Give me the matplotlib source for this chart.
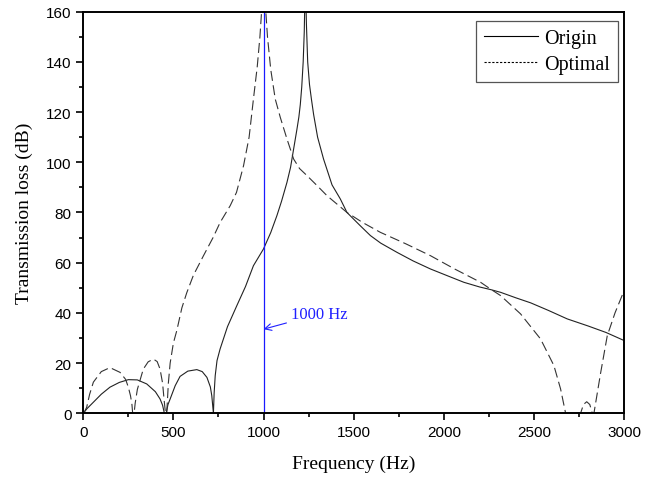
import matplotlib.pyplot as plt
from matplotlib.lines import Line2D
from matplotlib.ticker import MultipleLocator

# Transmission loss of the original and optimised muffler
freq_origin = [0, 20, 56, 100, 148, 200, 250, 300, 352, 400, 426, 440, 450,
               460, 470, 482, 510, 537, 580, 630, 660, 686, 705, 713, 722,
               726, 732, 742, 759, 800, 852, 900, 944, 1000, 1040, 1074, 1100,
               1130, 1150, 1167, 1185, 1196, 1204, 1212, 1220, 1226, 1232,
               1238, 1245, 1255, 1266, 1278, 1300, 1333, 1380, 1426, 1463,
               1537, 1593, 1650, 1741, 1830, 1926, 2020, 2111, 2200, 2259,
               2315, 2400, 2482, 2580, 2685, 2800, 2900, 3000]
tl_origin = [0, 1.8, 4.4, 7.6, 10.4, 12.3, 13.4, 13.3, 11.7, 8.6, 5.7, 3.2, 0,
             0, 3.5, 5.7, 11.0, 14.7, 16.8, 17.4, 16.6, 14.3, 10.5, 7.0, 0,
             8.0, 15.0, 21.0, 25.6, 34.5, 42.9, 50.5, 58.8, 65.5, 72.0, 78.7, 84.5,
             92.0, 98.0, 105.3, 113.0, 118.0, 123.0, 130.0, 140.0, 152.0, 175.0,
             155.0, 140.0, 131.0, 125.0, 119.0, 110.0, 101.3, 91.0, 85.4, 80.0,
             74.7, 70.8, 67.8, 64.1, 60.7, 57.5, 54.8, 52.2, 50.3, 49.3,
             48.2, 46.0, 44.0, 41.0, 37.6, 34.8, 32.2, 29.0]

freq_optimal = [0, 8, 19, 35, 56, 100, 148, 204, 235, 250, 262, 270, 274,
                282, 288, 300, 333, 360, 389, 410, 426, 440, 448, 456,
                463, 472, 482, 500, 519, 547, 574, 611, 667, 720, 759, 815,
                850, 889, 920, 944, 965, 980, 991, 1000, 1008, 1022, 1040,
                1065, 1093, 1130, 1167, 1200, 1241, 1300, 1352, 1463, 1550,
                1648, 1790, 1926, 2060, 2204, 2259, 2315, 2426, 2537, 2611,
                2648, 2676, 2700, 2740, 2759, 2775, 2793, 2810, 2824, 2833,
                2870, 2907, 2950, 3000]
tl_optimal = [0, 0.8, 2.4, 7.5, 12.4, 16.6, 18.2, 16.3, 13.5, 10.4, 7.0, 3.5, 0,
              0, 4.0, 9.5, 17.6, 20.5, 21.6, 20.6, 17.6, 12.0, 5.7, 0,
              0, 12.0, 20.0, 28.0, 33.0, 42.0, 48.0, 55.0, 62.8, 70.0, 76.0, 82.7,
              88.0, 98.6, 110.0, 125.2, 138.0, 150.0, 162.0, 175.0, 165.0, 150.0, 137.0,
              125.2, 117.9, 109.3, 101.3, 97.5, 94.7, 90.5, 86.7, 80.0, 76.0,
              72.1, 67.5, 62.8, 57.5, 52.2, 49.5, 46.9, 39.6, 29.6, 19.0,
              9.7, 0, 0, 0, 0, 3.5, 4.6, 3.5, 0, 0,
              16.0, 30.9, 40.0, 48.8]

marker_freq = 1000

plt.rcParams['font.family'] = ['Liberation Sans', 'DejaVu Sans']
serif = 'Liberation Serif'

fig = plt.figure(figsize=(6.71, 4.81), dpi=100)
ax = fig.add_axes([0.1241, 0.1387, 0.8059, 0.8349])

ax.plot(freq_origin, tl_origin, color='#222222', lw=0.8, ls='-')
ax.plot(freq_optimal, tl_optimal, color='#333333', lw=0.8, ls=(0, (9, 4)))

ax.axvline(marker_freq, color='#1a1aff', lw=0.9)
ax.annotate(f'{marker_freq} Hz', xy=(marker_freq, 33.5), xytext=(1150, 39.5),
            color='#2020ff', fontsize=12, family=serif, va='center', ha='left',
            arrowprops=dict(arrowstyle='->', color='#2020ff', lw=0.8,
                            shrinkA=1, shrinkB=0))

ax.set_xlim(0, 3000)
ax.set_ylim(0, 160)
ax.xaxis.set_major_locator(MultipleLocator(500))
ax.xaxis.set_minor_locator(MultipleLocator(250))
ax.yaxis.set_major_locator(MultipleLocator(20))
ax.yaxis.set_minor_locator(MultipleLocator(10))
ax.tick_params(which='both', direction='out', top=False, right=False,
               labelsize=11, width=1.2)
ax.tick_params(which='major', length=5)
ax.tick_params(which='minor', length=3)
for s in ax.spines.values():
    s.set_linewidth(1.4)

ax.set_xlabel('Frequency (Hz)', family=serif, fontsize=14, labelpad=11)
ax.set_ylabel('Transmission loss (dB)', family=serif, fontsize=14, labelpad=9)

handles = [Line2D([], [], color='black', lw=0.8, ls='-'),
           Line2D([], [], color='black', lw=0.8, ls=(0, (2, 1.5)))]
leg = ax.legend(handles, ['Origin', 'Optimal'], loc='upper right',
                bbox_to_anchor=(0.989, 0.977), borderaxespad=0,
                prop={'family': serif, 'size': 14.5}, fancybox=False,
                framealpha=1, edgecolor='#555555', handlelength=2.7,
                borderpad=0.4, labelspacing=0.35, handletextpad=0.3)
leg.get_frame().set_linewidth(0.9)

fig.savefig('out.png', dpi=100)
